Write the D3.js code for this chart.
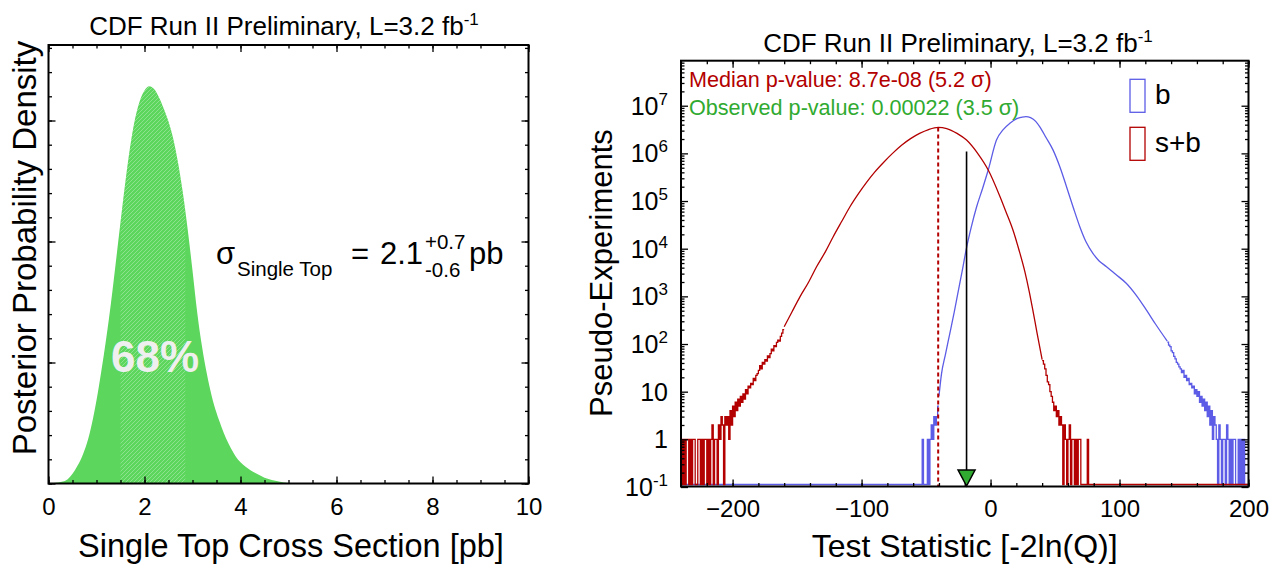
<!DOCTYPE html>
<html>
<head>
<meta charset="utf-8">
<script src="https://cdn.jsdelivr.net/npm/d3@7"></script>
<style>
body { margin: 0; background: #fff; }
svg text { font-family: "Liberation Sans", Arial, Helvetica, sans-serif; fill: #000; }
</style>
</head>
<body>
<svg id="canvas"></svg>
<script>
// ---- left panel: posterior for the single top cross section ----
const xsecValues = [0, 0.1, 0.2, 0.3, 0.4, 0.5, 0.6, 0.7, 0.8, 0.9,
  1.0, 1.1, 1.2, 1.3, 1.4, 1.5, 1.6, 1.7, 1.8, 1.9,
  2.0, 2.1, 2.2, 2.3, 2.4, 2.5, 2.6, 2.7, 2.8, 2.9,
  3.0, 3.1, 3.2, 3.3, 3.4, 3.5, 3.6, 3.7, 3.8, 3.9,
  4.0, 4.1, 4.2, 4.3, 4.4, 4.5, 4.6, 4.7, 4.8, 4.9,
  5.0, 5.5, 6, 10]
const densityValues = [0.000, 0.001, 0.002, 0.004, 0.009, 0.020, 0.036, 0.056, 0.083, 0.122,
  0.172, 0.232, 0.298, 0.372, 0.455, 0.540, 0.622, 0.695, 0.752, 0.790,
  0.812, 0.821, 0.815, 0.798, 0.775, 0.748, 0.712, 0.662, 0.600, 0.525,
  0.440, 0.352, 0.282, 0.226, 0.181, 0.146, 0.118, 0.093, 0.073, 0.056,
  0.044, 0.035, 0.028, 0.022, 0.017, 0.012, 0.009, 0.006, 0.004, 0.002,
  0.001, 0, 0, 0]
const hatchRange = [1.5, 2.85]
const xsecTicks = [0, 2, 4, 6, 8, 10]

// ---- right panel: test statistic distributions ----
const tsTicks = [-200, -100, 0, 100, 200]
const countTicks = [0.1, 1, 10, 1e2, 1e3, 1e4, 1e5, 1e6, 1e7]

// s+b : left tail bins (width 1) from -240, smooth core, right tail bins from 40
const sbLeftStart = -240
const sbLeft = [1, 0, 1, 0, 1, 1, 0, 1, 0, 1,
  1, 0, 0, 1, 1, 0, 1, 0, 1, 1,
  0, 1, 0, 1, 2, 0, 1, 1, 0, 2,
  1, 3, 2, 0, 3, 2, 3, 1, 4, 2,
  5, 3, 6, 4, 7, 5, 8, 6, 9, 7,
  11, 9, 13, 12, 15, 14, 19, 17, 22, 24,
  28, 35, 30, 41, 38, 47, 44, 56, 52, 63,
  78, 72, 92, 88, 108, 120, 115, 145, 170, 200]
const sbCore = [[-160, 230], [-154, 470], [-147.8, 977], [-141, 2000], [-134.9, 4170],
  [-128, 8700], [-122, 17800], [-115, 39000], [-109, 75900], [-102, 1.48e5],
  [-96, 2.5e5], [-90, 4.0e5], [-83, 6.45e5], [-76, 1.0e6], [-69, 1.48e6],
  [-62, 2.04e6], [-55, 2.63e6], [-48, 3.16e6], [-40.6, 3.5e6], [-34, 3.32e6],
  [-26, 2.63e6], [-18.6, 1.9e6], [-10, 1.0e6], [-1.8, 4.47e5], [7.2, 1.26e5],
  [12, 5.9e4], [17.5, 2.4e4], [22, 9500], [26.6, 3300], [30, 1260],
  [33, 480], [36, 174], [40, 47]]
const sbRightStart = 40
const sbRight = [45, 38, 30, 22, 16, 14, 10, 8, 6, 4,
  5, 3, 4, 2, 3, 2, 0, 2, 1, 0,
  1, 2, 0, 1, 1, 0, 1, 0, 1, 1,
  0, 0, 0, 0, 0, 1]

// b : left tail bins from -53, smooth core, right tail bins from 137
const bLeftStart = -53
const bLeft = [1, 0, 0, 0, 1, 0, 1, 2, 1, 3, 2, 3, 5]
const bCore = [[-40, 8], [-38, 24], [-35, 60], [-31.6, 166], [-28, 490],
  [-25.1, 1260], [-22, 3400], [-18.6, 10500], [-15, 28000], [-10.9, 74000],
  [-6, 1.9e5], [-1.8, 4.47e5], [4.6, 1.9e6], [10, 3.2e6], [15, 4.27e6],
  [20, 5.3e6], [24, 5.7e6], [27.4, 5.9e6], [31, 5.6e6], [35, 4.7e6],
  [38.2, 3.6e6], [43, 2.15e6], [48.5, 1.17e6], [54, 5e5], [58.9, 2e5],
  [64, 7.5e4], [69.2, 2.9e4], [74, 1.4e4], [79.5, 7900], [84, 5600],
  [89.9, 4200], [97, 2900], [105.4, 1860], [113, 1050], [120.9, 513],
  [128, 260], [137, 115]]
const bRightStart = 137
const bRight = [110, 95, 88, 72, 66, 55, 49, 41, 38, 33,
  30, 25, 28, 20, 22, 17, 19, 14, 15, 12,
  13, 9, 11, 8, 10, 6, 8, 5, 7, 4,
  6, 3, 5, 2, 4, 1, 3, 2, 1, 0,
  2, 1, 0, 1, 1, 0, 2, 1, 0, 1,
  0, 1, 1, 0, 0, 1, 0, 1, 0, 1]

const medianTs = -40.6
const medianPeak = 3.5e6
const observedTs = -18.6
const arrowTop = 1.1e6

const green = '#5cd65c'
const red = '#b30000'
const blue = '#5c5ce6'
const textGreen = '#30aa30'

let width = 1284,
height = 569

let canvas = d3.select('#canvas')
.attr('width', width)
.attr('height', height)

let defs = canvas.append('defs')

// helper for inward tick marks without labels
let ticks = (g, axis, scale, at, values, size) => {
    g.append('g')
    .attr('transform', at)
    .call(axis(scale).tickValues(values).tickSize(-size).tickSizeOuter(0).tickFormat(''))
    .call(s => s.select('.domain').remove())
    .selectAll('line').attr('stroke', '#000').attr('stroke-width', 1.3)
}

// ================= left panel =================
let xL = d3.scaleLinear().domain([0, 10]).range([48.5, 528.5])
let yL = d3.scaleLinear().domain([0, 0.906]).range([483.5, 45])
let left = canvas.append('g')

let hatch = defs.append('pattern')
.attr('id', 'hatch')
.attr('patternUnits', 'userSpaceOnUse')
.attr('width', 4).attr('height', 4)
hatch.append('path')
.attr('d', 'M-1,1 l2,-2 M0,4 l4,-4 M3,5 l2,-2')
.attr('stroke', '#fff').attr('stroke-opacity', 0.3).attr('stroke-width', 1)

defs.append('clipPath').attr('id', 'hatchClip')
.append('rect')
.attr('x', xL(hatchRange[0])).attr('y', 0)
.attr('width', xL(hatchRange[1]) - xL(hatchRange[0])).attr('height', height)

let posterior = xsecValues.map((x, i) => ({x: x, y: densityValues[i]}))
let area = d3.area()
.x(d => xL(d.x))
.y0(yL(0))
.y1(d => yL(d.y))
.curve(d3.curveMonotoneX)

left.append('path').datum(posterior).attr('d', area).attr('fill', green)
left.append('path').datum(posterior).attr('d', area)
.attr('fill', 'url(#hatch)').attr('clip-path', 'url(#hatchClip)')

left.append('text')
.attr('x', 155).attr('y', 372)
.attr('text-anchor', 'middle')
.attr('font-size', 44).attr('font-weight', 'bold')
.style('fill', '#efefef')
.text('68%')

// ticks
let xMinorL = d3.range(0, 10.01, 0.5)
let yMajorL = [0, 0.25, 0.5, 0.75]
let yMinorL = d3.range(0, 0.906, 0.05)
ticks(left, d3.axisBottom, xL, 'translate(0,483.5)', xMinorL, 3.5)
ticks(left, d3.axisBottom, xL, 'translate(0,483.5)', xsecTicks, 7)
ticks(left, d3.axisTop, xL, 'translate(0,45)', xMinorL, 3.5)
ticks(left, d3.axisTop, xL, 'translate(0,45)', xsecTicks, 7)
ticks(left, d3.axisLeft, yL, 'translate(48.5,0)', yMinorL, 3.5)
ticks(left, d3.axisLeft, yL, 'translate(48.5,0)', yMajorL, 7)
ticks(left, d3.axisRight, yL, 'translate(528.5,0)', yMinorL, 3.5)
ticks(left, d3.axisRight, yL, 'translate(528.5,0)', yMajorL, 7)

left.append('g')
.attr('transform', 'translate(0,483.5)')
.call(d3.axisBottom(xL).tickValues(xsecTicks).tickSize(0).tickPadding(14.5).tickFormat(d3.format('d')))
.call(s => s.select('.domain').remove())
.selectAll('text')
.attr('font-size', 24).attr('font-family', null)

left.append('rect')
.attr('x', 48.5).attr('y', 45)
.attr('width', 480).attr('height', 438.5)
.attr('fill', 'none').attr('stroke', '#000').attr('stroke-width', 2)

// labels
let titleL = left.append('text')
.attr('x', 284).attr('y', 35)
.attr('text-anchor', 'middle').attr('font-size', 26)
.text('CDF Run II Preliminary, L=3.2 fb')
titleL.append('tspan').attr('dy', -10).attr('font-size', 17).text('-1')

left.append('text')
.attr('x', 291).attr('y', 557)
.attr('text-anchor', 'middle').attr('font-size', 32.5)
.text('Single Top Cross Section [pb]')

left.append('text')
.attr('transform', 'translate(36,248) rotate(-90)')
.attr('text-anchor', 'middle').attr('font-size', 33)
.text('Posterior Probability Density')

// sigma = 2.1 +0.7 -0.6 pb
let sy = 264
let piece = (x, y, size, str) => left.append('text').attr('x', x).attr('y', y).attr('font-size', size).text(str)
piece(216, sy, 31, 'σ')
piece(237, sy + 12, 20.5, 'Single Top')
piece(351, sy, 31, '=')
piece(380, sy, 31, '2.1')
piece(425, sy - 15, 20.5, '+0.7')
piece(425, sy + 13, 20.5, '-0.6')
piece(469, sy, 31, 'pb')

// ================= right panel =================
let xR = d3.scaleLinear().domain([-240, 200]).range([681, 1248.5])
let yR = d3.scaleLog().domain([0.1, 8.8e7]).range([487, 60.7])
let right = canvas.append('g')
let floorY = yR(0.1) - 2.5

defs.append('clipPath').attr('id', 'frameR')
.append('rect')
.attr('x', 681).attr('y', 60.7).attr('width', 567.5).attr('height', 426)

let yCount = c => c > 0.1 ? Math.min(yR(c), floorY) : floorY
let stepLine = d3.line().x(d => xR(d[0])).y(d => yCount(d[1])).curve(d3.curveStepAfter)
let smoothLine = d3.line().x(d => xR(d[0])).y(d => yCount(d[1])).curve(d3.curveMonotoneX)

let binPoints = (start, counts) => {
    let pts = counts.map((c, i) => [start + i, c])
    pts.push([start + counts.length, counts[counts.length - 1]])
    return pts
}

let drawHist = (color, leftStart, leftBins, core, rightStart, rightBins) => {
    let g = right.append('g').attr('clip-path', 'url(#frameR)')
        .attr('fill', 'none').attr('stroke', color).attr('stroke-width', 1.3)
    let lp = binPoints(leftStart, leftBins)
    if (leftStart > -240) lp.unshift([-240, 0])
    g.append('path').attr('d', stepLine(lp))
    g.append('path').attr('d', smoothLine(core))
    let rp = rightBins.map((c, i) => [rightStart + i, c])
    rp.push([rightStart + rightBins.length, 0])
    rp.push([200, 0])
    g.append('path').attr('d', stepLine(rp))
}

drawHist(blue, bLeftStart, bLeft, bCore, bRightStart, bRight)
drawHist(red, sbLeftStart, sbLeft, sbCore, sbRightStart, sbRight)

// median and observed markers
right.append('line')
.attr('x1', xR(medianTs)).attr('x2', xR(medianTs))
.attr('y1', yR(medianPeak)).attr('y2', 486)
.attr('stroke', red).attr('stroke-width', 2).attr('stroke-dasharray', '4,3')

right.append('line')
.attr('x1', xR(observedTs)).attr('x2', xR(observedTs))
.attr('y1', yR(arrowTop)).attr('y2', 478)
.attr('stroke', '#000').attr('stroke-width', 1.6)

let ox = xR(observedTs)
right.append('path')
.attr('d', `M${ox},486 L${ox - 8.5},470 L${ox + 8.5},470 Z`)
.attr('fill', textGreen).attr('stroke', '#000').attr('stroke-width', 1.5)

// ticks
let xMinorR = d3.range(-240, 201, 20)
let yMinorR = []
countTicks.forEach(v => d3.range(2, 10).forEach(m => { if (v * m < 8.8e7) yMinorR.push(v * m) }))
ticks(right, d3.axisBottom, xR, 'translate(0,486.5)', xMinorR, 3.5)
ticks(right, d3.axisBottom, xR, 'translate(0,486.5)', tsTicks, 7)
ticks(right, d3.axisTop, xR, 'translate(0,60.7)', xMinorR, 3.5)
ticks(right, d3.axisTop, xR, 'translate(0,60.7)', tsTicks, 7)
ticks(right, d3.axisLeft, yR, 'translate(681,0)', yMinorR, 3.5)
ticks(right, d3.axisLeft, yR, 'translate(681,0)', countTicks, 7)
ticks(right, d3.axisRight, yR, 'translate(1248.5,0)', yMinorR, 3.5)
ticks(right, d3.axisRight, yR, 'translate(1248.5,0)', countTicks, 7)

right.append('g')
.attr('transform', 'translate(0,486.5)')
.call(d3.axisBottom(xR).tickValues(tsTicks).tickSize(0).tickPadding(13.5).tickFormat(d3.format('d')))
.call(s => s.select('.domain').remove())
.selectAll('text')
.attr('font-size', 24).attr('font-family', null)

countTicks.forEach(v => {
    let e = Math.round(Math.log10(v))
    let t = right.append('text')
    .attr('x', 668).attr('y', yR(v) + 9)
    .attr('text-anchor', 'end').attr('font-size', 25)
    if (e === 0) t.text('1')
    else if (e === 1) t.text('10')
    else {
        t.text('10')
        t.append('tspan').attr('dy', -10).attr('font-size', 17).text(e)
    }
})

right.append('rect')
.attr('x', 681).attr('y', 60.7)
.attr('width', 567.5).attr('height', 425.8)
.attr('fill', 'none').attr('stroke', '#000').attr('stroke-width', 2)

// texts
let titleR = right.append('text')
.attr('x', 958).attr('y', 52)
.attr('text-anchor', 'middle').attr('font-size', 26)
.text('CDF Run II Preliminary, L=3.2 fb')
titleR.append('tspan').attr('dy', -10).attr('font-size', 17).text('-1')

right.append('text')
.attr('x', 689).attr('y', 87).attr('font-size', 21.6)
.style('fill', red)
.text('Median p-value: 8.7e-08 (5.2 σ)')

right.append('text')
.attr('x', 689).attr('y', 115).attr('font-size', 21.6)
.style('fill', textGreen)
.text('Observed p-value: 0.00022 (3.5 σ)')

right.append('text')
.attr('x', 964.7).attr('y', 557)
.attr('text-anchor', 'middle').attr('font-size', 32)
.text('Test Statistic [-2ln(Q)]')

right.append('text')
.attr('transform', 'translate(612,273) rotate(-90)')
.attr('text-anchor', 'middle').attr('font-size', 31)
.text('Pseudo-Experiments')

// legend
let legend = [{label: 'b', color: blue, y: 79.3}, {label: 's+b', color: red, y: 127.3}]
legend.forEach(d => {
    right.append('rect')
    .attr('x', 1130).attr('y', d.y)
    .attr('width', 15).attr('height', 33)
    .attr('fill', 'none').attr('stroke', d.color).attr('stroke-width', 1.3)
    right.append('text')
    .attr('x', 1155).attr('y', d.y + 24.5)
    .attr('font-size', 28)
    .text(d.label)
})
</script>
</body>
</html>
